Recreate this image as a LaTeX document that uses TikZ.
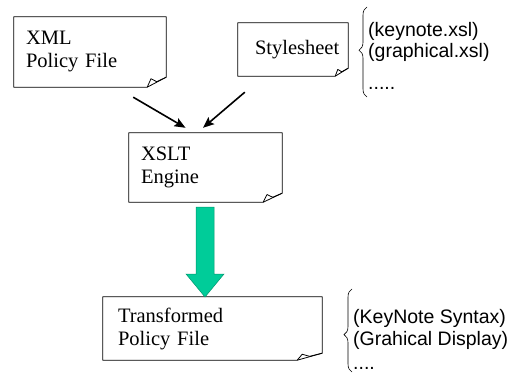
\documentclass[tikz,border=0pt]{standalone}
\usepackage{fontspec}
\setmainfont{Liberation Serif}
\setsansfont{Liberation Sans}
\usetikzlibrary{arrows.meta,decorations.pathreplacing}

\definecolor{flowgreen}{RGB}{0,204,153}
\definecolor{flowedge}{RGB}{0,150,110}

\tikzset{
  notebox/.style={rectangle, inner ysep=0pt, align=left,
    font=\fontsize{20.5}{23}\selectfont\rmfamily},
  noteline/.style={line width=0.8pt, line join=round},
  feed/.style={line width=1.6pt, -{Stealth[length=11pt,width=9pt,inset=2pt]}},
  listtext/.style={anchor=base west, inner sep=0pt,
    font=\fontsize{19.5}{22}\selectfont\sffamily},
  listbrace/.style={line width=0.6pt, decorate, decoration={brace,amplitude=8pt,aspect=#1}}
}

% outline of a page with a curled lower right corner
\newcommand\curlnote[3]{%
  \coordinate (#1-a) at ([xshift=-#2 pt]#1.south east);
  \coordinate (#1-b) at ([yshift=#3 pt]#1.south east);
  \draw[noteline] (#1.north west) -- (#1.north east) -- (#1-b)
    -- (#1-a) -- (#1.south west) -- cycle;
  \draw[noteline] (#1-a) -- ++(0.2*#2 pt,0.85*#3 pt) -- ++(0.3*#2 pt,-0.3*#3 pt) -- (#1-b);
}

\begin{document}
\begin{tikzpicture}[x=1pt,y=-1pt]
\useasboundingbox (0,0) rectangle (513,374);

% the four pages
\node[notebox, inner xsep=12pt, text width=128pt, minimum width=152pt, minimum height=70pt]
  (xml) at (90,52) {XML\\Policy File};
\node[notebox, inner xsep=17pt, text width=76pt, minimum width=110pt, minimum height=53pt]
  (style) at (293,49.5) {Stylesheet};
\node[notebox, inner xsep=12pt, text width=129pt, minimum width=153pt, minimum height=69pt]
  (xslt) at (205.5,167.5) {XSLT\\Engine};
\node[notebox, inner xsep=15pt, text width=189pt, minimum width=219pt, minimum height=63pt]
  (out) at (212.5,328.5) {Transformed\\Policy File};

\curlnote{xml}{19}{10}
\curlnote{style}{13}{8}
\curlnote{xslt}{19}{9}
\curlnote{out}{25}{7}

% inputs to the engine
\draw[feed] ([xshift=-33pt,yshift=-10pt]xml.south east) -- ([xshift=-20pt,yshift=5pt]xslt.north);
\draw[feed] ([xshift=7pt,yshift=-16pt]style.south west) -- ([xshift=-2.5pt,yshift=5pt]xslt.north);

% engine output
\draw[fill=flowgreen, draw=flowedge, line width=0.5pt]
  (196,207) -- (214,207) -- (214,274) -- (224,274) -- (205,297)
  -- (186,274) -- (196,274) -- cycle;

% stylesheet choices
\draw[listbrace=0.52] (367,97) -- (367,7);
\node[listtext] (k1) at (368,37) {(keynote.xsl)};
\node[listtext] (k2) at (368,58) {(graphical.xsl)};
\node[listtext] (k3) at (368,90) {.....};

% output forms
\draw[listbrace=0.45] (352,372) -- (352,289);
\node[listtext] (o1) at (353,323) {(KeyNote Syntax)};
\node[listtext] (o2) at (353,345) {(Grahical Display)};
\node[listtext] (o3) at (353,369) {....};
\end{tikzpicture}
\end{document}
